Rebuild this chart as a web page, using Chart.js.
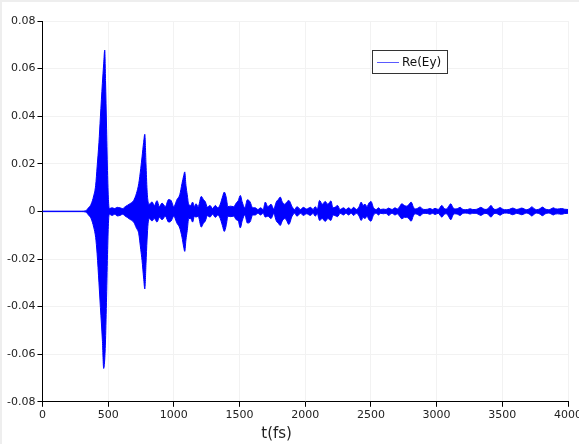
<!DOCTYPE html>
<html>
<head>
<meta charset="utf-8">
<script src="https://cdn.jsdelivr.net/npm/chart.js@4"></script>
<style>
    body { margin: 0; background: #eeeeee; }
    #wrap { position: absolute; left: 2px; top: 2px; width: 577px; height: 442px; overflow: hidden; background: #fff; }
    #chart_1 { display: block; }
</style>
</head>
<body>
<div id="wrap">
    <canvas id="chart_1" width="610" height="442"></canvas>
</div>
<script>
// Dados: envelope do sinal Re(Ey)
var tempos = [0, 300, 330, 350, 370, 390, 405, 416, 430, 441, 456, 466, 474, 480, 488, 496, 503, 510,
    530, 550, 570, 590, 610, 630, 645, 665, 694, 715, 733, 748, 758, 770, 779, 788, 796, 804, 812,
    834, 852, 872, 890, 910, 935, 960, 980, 999, 1024, 1045, 1062, 1075, 1083, 1092, 1102, 1113,
    1128, 1143, 1156, 1168, 1185, 1209, 1225, 1240, 1255, 1275, 1295, 1316, 1335, 1353, 1370, 1384,
    1398, 1412, 1430, 1455, 1475, 1490, 1506, 1520, 1540, 1560, 1580, 1600, 1620, 1640, 1660, 1680,
    1696, 1715, 1740, 1760, 1780, 1795, 1810, 1825, 1845, 1860, 1875, 1900, 1920, 1937, 1965, 1985,
    2010, 2040, 2060, 2076, 2092, 2109, 2130, 2152, 2172, 2195, 2212, 2228, 2246, 2265, 2292, 2310,
    2330, 2350, 2368, 2390, 2410, 2426, 2440, 2455, 2470, 2485, 2500, 2520, 2540, 2558, 2575, 2595,
    2615, 2634, 2660, 2684, 2700, 2718, 2735, 2755, 2773, 2790, 2806, 2822, 2836, 2855, 2874, 2893,
    2912, 2930, 2950, 2970, 2988, 3012, 3040, 3058, 3074, 3090, 3108, 3125, 3140, 3160, 3179, 3198,
    3217, 3236, 3255, 3275, 3293, 3315, 3336, 3356, 3376, 3395, 3414, 3430, 3445, 3465, 3483, 3505,
    3530, 3555, 3579, 3595, 3610, 3630, 3648, 3668, 3686, 3705, 3724, 3745, 3762, 3785, 3805, 3828,
    3850, 3870, 3888, 3905, 3919, 3935, 3952, 3975, 4000]

var envSuperior = [0.0001, 0.0001, 0.0003, 0.0015, 0.003, 0.0065, 0.011, 0.0187, 0.029, 0.0397, 0.0538, 0.062, 0.0678, 0.055, 0.035, 0.015, 0.004, 0.0012,
    0.0015, 0.0012, 0.0017, 0.0015, 0.0012, 0.002, 0.0025, 0.0032, 0.0046, 0.0075, 0.0117, 0.018, 0.0229, 0.029, 0.0324, 0.02, 0.009, 0.004, 0.003,
    0.004, 0.0025, 0.0045, 0.002, 0.0035, 0.002, 0.005, 0.0045, 0.002, 0.005, 0.007, 0.0117, 0.015, 0.0166, 0.011, 0.007, 0.003,
    0.0025, 0.0039, 0.002, 0.0032, 0.002, 0.0063, 0.005, 0.004, 0.0018, 0.0025, 0.0012, 0.0025, 0.0015, 0.003, 0.006, 0.0081,
    0.006, 0.002, 0.0022, 0.002, 0.0035, 0.0045, 0.0067, 0.004, 0.0015, 0.0049, 0.004, 0.0015, 0.0015, 0.0008, 0.0015, 0.0008,
    0.0039, 0.002, 0.003, 0.001, 0.004, 0.005, 0.006, 0.004, 0.003, 0.004, 0.0046, 0.002, 0.0008, 0.002, 0.0008, 0.0017,
    0.001, 0.0017, 0.0008, 0.002, 0.001, 0.0046, 0.003, 0.0042, 0.003, 0.0044, 0.0015, 0.0018, 0.0025, 0.0008, 0.0015, 0.0008,
    0.0015, 0.0008, 0.0017, 0.0008, 0.002, 0.0039, 0.0025, 0.003, 0.002, 0.0035, 0.0042, 0.0015, 0.0008, 0.0015, 0.0008, 0.001,
    0.0008, 0.0014, 0.0008, 0.0015, 0.001, 0.002, 0.0032, 0.0025, 0.0022, 0.003, 0.0039, 0.002, 0.001, 0.0013, 0.0019, 0.001,
    0.0008, 0.0009, 0.0012, 0.0008, 0.0013, 0.0008, 0.0025, 0.0012, 0.001, 0.002, 0.0032, 0.0015, 0.001, 0.0012, 0.0017, 0.0009,
    0.0007, 0.0008, 0.0011, 0.0008, 0.0008, 0.0011, 0.0017, 0.0011, 0.0008, 0.0014, 0.0025, 0.0013, 0.0008, 0.0011, 0.0016, 0.0009,
    0.0007, 0.0009, 0.0014, 0.0011, 0.0008, 0.0011, 0.0014, 0.001, 0.0007, 0.0011, 0.0019, 0.0011, 0.0007, 0.0011, 0.0018, 0.001,
    0.0007, 0.001, 0.0015, 0.0011, 0.001, 0.0011, 0.0012, 0.0009, 0.0008]

var envInferior = [-0.0001, -0.0001, -0.0003, -0.0015, -0.003, -0.0066, -0.011, -0.0178, -0.03, -0.0403, -0.054, -0.066, -0.062, -0.054, -0.036, -0.016, -0.004, -0.0012,
    -0.0017, -0.0012, -0.0019, -0.0017, -0.0012, -0.002, -0.0025, -0.0033, -0.0045, -0.007, -0.0094, -0.016, -0.0206, -0.028, -0.0326, -0.022, -0.012, -0.005, -0.003,
    -0.004, -0.003, -0.0045, -0.0025, -0.0035, -0.002, -0.0045, -0.004, -0.002, -0.005, -0.007, -0.0108, -0.015, -0.0168, -0.012, -0.008, -0.003,
    -0.003, -0.0045, -0.002, -0.0024, -0.002, -0.0066, -0.005, -0.004, -0.0018, -0.0024, -0.0012, -0.0025, -0.0015, -0.003, -0.006, -0.0084,
    -0.006, -0.002, -0.0022, -0.002, -0.0035, -0.004, -0.0069, -0.004, -0.0015, -0.0049, -0.0045, -0.0015, -0.0015, -0.0008, -0.0015, -0.0008,
    -0.0024, -0.002, -0.003, -0.001, -0.004, -0.005, -0.0059, -0.004, -0.003, -0.004, -0.0055, -0.002, -0.0008, -0.002, -0.0008, -0.0017,
    -0.001, -0.0017, -0.0008, -0.002, -0.001, -0.0038, -0.003, -0.0042, -0.003, -0.0038, -0.0015, -0.0018, -0.0022, -0.0008, -0.0015, -0.0008,
    -0.0015, -0.0008, -0.0017, -0.0008, -0.002, -0.0038, -0.0025, -0.003, -0.002, -0.0035, -0.0041, -0.0015, -0.0008, -0.0015, -0.0008, -0.001,
    -0.0008, -0.0017, -0.0008, -0.0015, -0.001, -0.002, -0.0031, -0.0025, -0.0025, -0.0032, -0.0041, -0.002, -0.001, -0.0013, -0.0019, -0.001,
    -0.0008, -0.0009, -0.0012, -0.0008, -0.0013, -0.0008, -0.0024, -0.0012, -0.001, -0.002, -0.0035, -0.0015, -0.001, -0.0012, -0.0017, -0.0009,
    -0.0007, -0.0008, -0.0011, -0.0008, -0.0008, -0.0011, -0.0017, -0.0011, -0.0008, -0.0014, -0.0024, -0.0013, -0.0008, -0.0011, -0.0016, -0.0009,
    -0.0007, -0.0009, -0.0014, -0.0011, -0.0008, -0.0011, -0.0014, -0.001, -0.0007, -0.0011, -0.0019, -0.0011, -0.0007, -0.0011, -0.0018, -0.001,
    -0.0007, -0.001, -0.0015, -0.0011, -0.001, -0.0011, -0.0012, -0.0009, -0.0008]

var ticksX = [0, 500, 1000, 1500, 2000, 2500, 3000, 3500, 4000]
var ticksY = [-0.08, -0.06, -0.04, -0.02, 0, 0.02, 0.04, 0.06, 0.08]
var nomeSerie = 'Re(Ey)'
var tituloX = 't(fs)'

var fonte = 'DejaVu Sans'

// Legenda desenhada à mão (caixa dentro da área do gráfico)
var legendaCaixa = {
    id: 'legendaCaixa',
    afterDraw(chart) {
        let ctx = chart.ctx
        ctx.save()
        ctx.fillStyle = '#fff'
        ctx.fillRect(370.5, 48.5, 75, 23)
        ctx.strokeStyle = '#333'
        ctx.lineWidth = 1
        ctx.strokeRect(370.5, 48.5, 75, 23)
        ctx.strokeStyle = '#5a5aff'
        ctx.beginPath()
        ctx.moveTo(375, 60.5)
        ctx.lineTo(397, 60.5)
        ctx.stroke()
        ctx.fillStyle = '#111'
        ctx.font = '12px "' + fonte + '"'
        ctx.textBaseline = 'middle'
        ctx.fillText(nomeSerie, 400, 60.5)
        ctx.restore()
    }
}

function montarPontos(valores) {
    return tempos.map((t, i) => ({ x: t, y: valores[i] }))
}

function chart1() {
    const chart_1 = document.getElementById('chart_1').getContext('2d')
    const chart = new Chart(chart_1, {
        type: 'line',
        data: {
            datasets: [{
                label: nomeSerie,
                data: montarPontos(envSuperior),
                borderColor: '#0000ff',
                backgroundColor: '#0000ff',
                borderWidth: 1,
                pointRadius: 0,
                cubicInterpolationMode: 'monotone',
                fill: false
            }, {
                label: nomeSerie + ' inf',
                data: montarPontos(envInferior),
                borderColor: '#0000ff',
                backgroundColor: '#0000ff',
                borderWidth: 1,
                pointRadius: 0,
                cubicInterpolationMode: 'monotone',
                fill: '-1'
            }]
        },
        options: {
            responsive: false,
            animation: false,
            layout: { padding: { left: 3, right: 44, top: 19, bottom: 0 } },
            plugins: {
                legend: { display: false },
                tooltip: { enabled: false }
            },
            scales: {
                x: {
                    type: 'linear',
                    min: ticksX[0],
                    max: ticksX[ticksX.length - 1],
                    afterBuildTicks: (s) => { s.ticks = ticksX.map(v => ({ value: v })) },
                    grid: { color: '#f2f2f2', tickColor: '#000', tickLength: 5 },
                    border: { color: '#000', width: 1 },
                    ticks: {
                        maxRotation: 0,
                        autoSkip: false,
                        padding: 2,
                        color: '#222',
                        font: { family: fonte, size: 11 },
                        callback: (v) => String(v)
                    },
                    title: {
                        display: true,
                        text: tituloX + '            ',
                        color: '#222',
                        font: { family: fonte, size: 15 },
                        padding: { top: 1, bottom: 1 }
                    }
                },
                y: {
                    min: ticksY[0],
                    max: ticksY[ticksY.length - 1],
                    afterBuildTicks: (s) => { s.ticks = ticksY.map(v => ({ value: v })) },
                    grid: { color: '#f2f2f2', tickColor: '#000', tickLength: 5 },
                    border: { color: '#000', width: 1 },
                    ticks: {
                        padding: 2,
                        color: '#222',
                        font: { family: fonte, size: 11 },
                        callback: (v) => String(Math.round(v * 100) / 100)
                    }
                }
            }
        },
        plugins: [legendaCaixa]
    })
}

chart1()
</script>
</body>
</html>
